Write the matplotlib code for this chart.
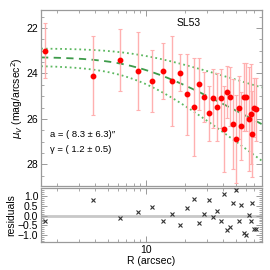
import numpy as np
import matplotlib
matplotlib.use("Agg")
import matplotlib.pyplot as plt
from matplotlib.ticker import LogLocator, NullFormatter, FixedLocator, MultipleLocator

plt.rcParams['font.family'] = ['Liberation Sans', 'DejaVu Sans']

# ---- data ----
radius = [1.62, 3.83, 6.23, 8.66, 11.14, 13.58, 15.96, 18.44, 20.91, 23.46,
          25.81, 28.39, 30.89, 33.2, 35.67, 38.33, 40.68, 42.94, 45.64, 48.17,
          50.84, 53.18, 55.43, 58.30, 60.43, 63.43, 65.77, 67.57, 70.31, 72.88]
mu = [22.99, 24.10, 23.40, 23.89, 24.33, 23.89, 24.33, 23.96, 24.92, 25.47,
      24.48, 25.03, 25.76, 25.10, 25.46, 25.10, 26.43, 24.81, 25.02, 26.23,
      26.88, 25.51, 26.32, 25.05, 25.05, 26.01, 25.77, 26.65, 25.50, 25.58]
mu_err = [1.2, 1.75, 1.35, 1.7, 1.35, 1.25, 2.0, 0.8, 1.8, 2.15,
          1.15, 1.1, 1.2, 1.3, 1.5, 1.3, 1.9, 1.15, 1.3, 2.0,
          1.95, 1.4, 1.5, 1.5, 1.5, 2.3, 2.2, 1.9, 1.3, 1.4]
residuals = [-0.29, 0.80, -0.14, 0.17, 0.46, -0.26, 0.07, -0.48, 0.39, 0.83,
             -0.39, 0.10, 0.80, -0.06, 0.22, -0.26, 1.12, -0.75, -0.60, 0.66,
             1.29, -0.26, 0.52, -0.90, -0.98, 0.03, -0.26, 0.63, -0.70, -0.67]

# EFF fit parameters
mu0 = 23.27
mu0_err = 0.38
a_fit, a_err = 8.3, 6.3
gamma_fit, gamma_err = 1.2, 0.5


def eff(r, m0, a, g):
    return m0 + 1.25 * g * np.log10(1 + (r / a) ** 2)


fig = plt.figure(figsize=(2.7, 2.7), dpi=100)
ax = fig.add_axes([0.152, 0.312, 0.817, 0.651])
axr = fig.add_axes([0.152, 0.104, 0.817, 0.200])

spine_col = '#9a9a9a'
for a_ in (ax, axr):
    a_.set_xscale('log')
    a_.set_xlim(1.5, 80)
    a_.xaxis.set_major_locator(FixedLocator([10]))
    a_.xaxis.set_minor_locator(LogLocator(base=10, subs=np.arange(2, 10)))
    a_.xaxis.set_minor_formatter(NullFormatter())
    for s in a_.spines.values():
        s.set_color(spine_col)
        s.set_linewidth(0.9)
    a_.tick_params(which='both', direction='in', top=True, right=True,
                   color=spine_col, labelsize=7.5, pad=2)
    a_.tick_params(which='major', length=4.5, width=0.7)
    a_.tick_params(which='minor', length=2.2, width=0.6)

rr = np.geomspace(1.5, 80, 300)
ax.plot(rr, eff(rr, mu0 - mu0_err, a_fit, gamma_fit - gamma_err), ':', color='#5cb860', lw=1.3)
ax.plot(rr, eff(rr, mu0 + mu0_err, a_fit, gamma_fit + gamma_err), ':', color='#5cb860', lw=1.3)
ax.plot(rr, eff(rr, mu0, a_fit, gamma_fit), '--', color='#3d9b4a', lw=1.3, dashes=(4, 3))

ax.errorbar(radius, mu, yerr=mu_err, fmt='none', ecolor='#ffb0b0', elinewidth=1.0,
            capsize=1.6, capthick=0.8, zorder=3)
ax.plot(radius, mu, 'o', color='#ff0000', ms=3.2, mec='#ff0000', zorder=4)

ax.set_ylim(28.95, 21.2)
ax.yaxis.set_major_locator(MultipleLocator(2))
ax.yaxis.set_minor_locator(MultipleLocator(0.5))
ax.xaxis.set_major_formatter(NullFormatter())
ax.set_ylabel(r'$\mu_V$ (mag/arcsec$^2$)', fontsize=7.5, labelpad=1)

ax.text(0.67, 0.925, 'SL53', transform=ax.transAxes, fontsize=7.5, ha='center', va='center')
ax.text(0.04, 0.29, u'a = ( %.1f \u00b1 %.1f)\u2033' % (a_fit, a_err), transform=ax.transAxes,
        fontsize=6.8, ha='left', va='center')
ax.text(0.04, 0.205, u'\u03b3 = ( %.1f \u00b1 %.1f)' % (gamma_fit, gamma_err), transform=ax.transAxes,
        fontsize=6.8, ha='left', va='center')

axr.axhline(0, color='#c8c8c8', lw=2.0, zorder=1)
axr.plot(radius, residuals, 'x', color='#333333', ms=3.0, mew=0.8, zorder=3)
axr.set_ylim(-1.35, 1.42)
axr.yaxis.set_major_locator(FixedLocator([-1.0, -0.5, 0.0, 0.5, 1.0]))
axr.yaxis.set_minor_locator(MultipleLocator(0.1))
axr.set_yticklabels([u'\u22121.0', u'\u22120.5', '0.0', '0.5', '1.0'])
axr.set_xticklabels(['10'])
axr.set_ylabel('residuals', fontsize=7.5, labelpad=1)
axr.set_xlabel('R (arcsec)', fontsize=7.5, labelpad=1)

fig.savefig('out.png', dpi=100)
